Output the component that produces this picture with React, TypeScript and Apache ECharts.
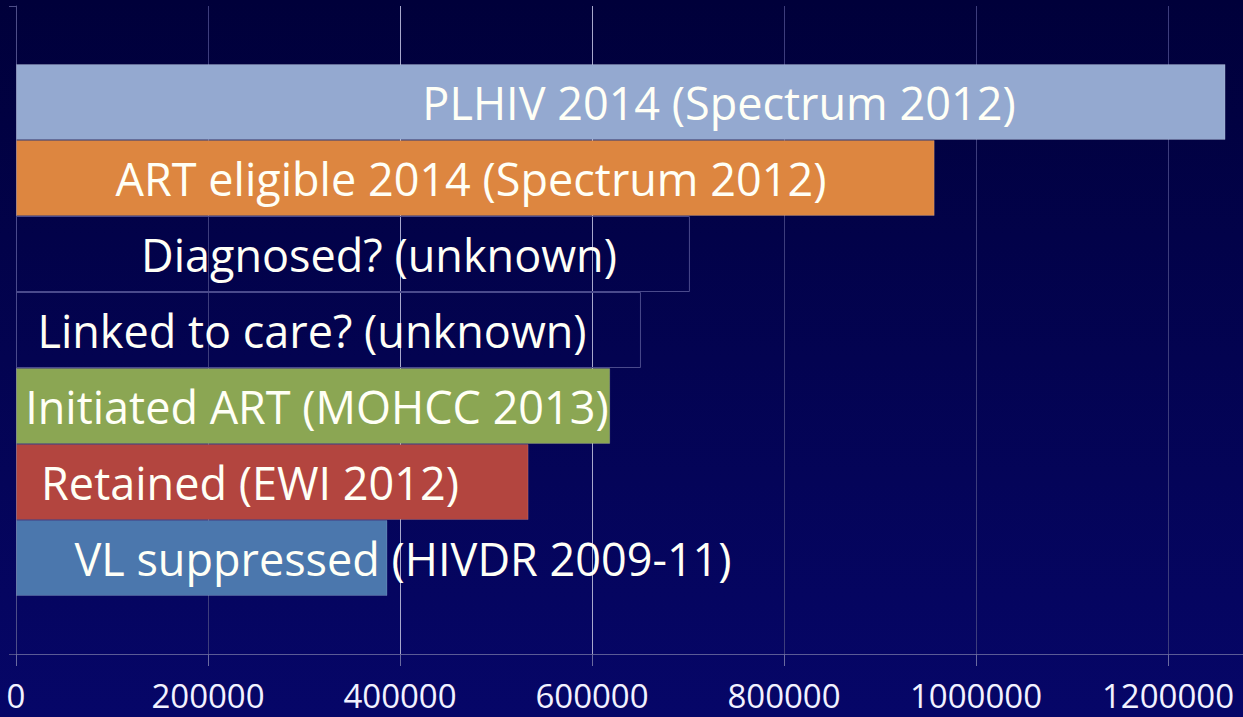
import React, { useEffect, useRef } from "react";
import * as echarts from "echarts";

const stageNames = [
  "PLHIV 2014 (Spectrum 2012)",
  "ART eligible 2014 (Spectrum 2012)",
  "Diagnosed? (unknown)",
  "Linked to care? (unknown)",
  "Initiated ART (MOHCC 2013)",
  "Retained (EWI 2012)",
  "VL suppressed (HIVDR 2009-11)",
];
const stageValues = [1260000, 957000, 702000, 651000, 619000, 534000, 387000];
const stageColors = ["#94A9D0", "#DD8640", "transparent", "transparent", "#8BA653", "#B3453F", "#4B77AD"];
// label centre, in pixels from the bar's left end
const labelCentres = [703, 455, 363, 296, 301, 234, 387];

export default function App() {
  const ref = useRef<HTMLDivElement>(null);
  useEffect(() => {
    if (!ref.current) return;
    const chart = echarts.init(ref.current, undefined, { renderer: "svg" });
    const series = stageNames.map((name, i) => ({
      type: "bar",
      name,
      data: [stageValues[i]],
      barWidth: 76,
      barGap: "0%",
      itemStyle: {
        color: stageColors[i],
        borderColor: stageColors[i] === "transparent" ? "#4a4a8c" : "rgba(255,255,255,0.15)",
        borderWidth: 1,
      },
      label: {
        show: true,
        formatter: name,
        position: [labelCentres[i], "50%"],
        align: "center",
        verticalAlign: "middle",
        color: "#FFFFF6",
        fontFamily: "Open Sans",
        fontSize: 45,
      },
    }));
    chart.setOption({
      animation: false,
      backgroundColor: new echarts.graphic.LinearGradient(0, 0, 0, 1, [
        { offset: 0, color: "#00003a" },
        { offset: 1, color: "#060668" },
      ]),
      grid: { left: 16, width: 1344, top: 6, bottom: 63, outerBoundsMode: "none", containLabel: false },
      xAxis: {
        type: "value",
        min: 0,
        max: 1400000,
        interval: 200000,
        axisLine: { show: true, lineStyle: { color: "#5b5b95", width: 1 } },
        axisTick: { show: true, length: 12, lineStyle: { color: "#6a6aa0" } },
        axisLabel: {
          color: "#F2F2FF",
          fontFamily: "Open Sans",
          fontSize: 33,
          margin: 25,
          showMaxLabel: false,
          formatter: (v: number) => String(v),
        },
        splitLine: {
          show: true,
          lineStyle: {
            color: ["#4a4a85", "#3d3d7c", "#a8a8cc", "#a8a8cc", "#3d3d7c", "#3d3d7c", "#3d3d7c", "#3d3d7c"],
            width: 1,
          },
        },
      },
      yAxis: {
        type: "category",
        data: [""],
        inverse: true,
        axisLine: { show: true, lineStyle: { color: "#4e4e88" } },
        axisTick: { show: true, length: 7, lineStyle: { color: "#4e4e88" } },
        axisLabel: { show: false },
      },
      series,
    });
    return () => chart.dispose();
  }, []);
  return (
    <div
      ref={ref}
      style={{ position: "fixed", left: 0, top: 0, width: 1243, height: 717 }}
    />
  );
}
